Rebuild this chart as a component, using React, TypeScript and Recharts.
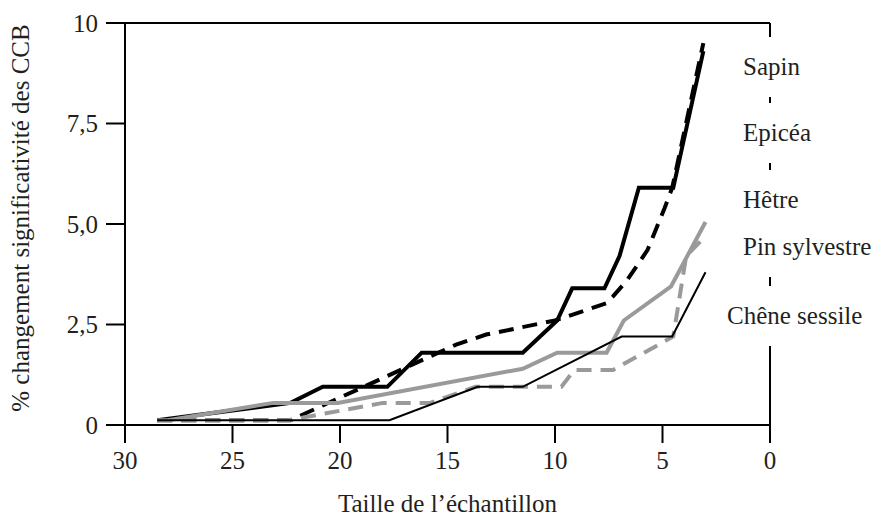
import { LineChart, Line, XAxis, YAxis, ReferenceLine } from 'recharts'

const X_TICKS = [0, 5, 10, 15, 20, 25, 30]
const Y_TICKS = [0, 2.5, 5, 7.5, 10]

// [taille de l'échantillon, % changement]
const SAPIN = [
  [28.5, 0.12], [22.3, 0.55], [20.8, 0.95], [17.8, 0.95], [16.2, 1.8], [11.5, 1.8],
  [9.9, 2.6], [9.2, 3.4], [7.7, 3.4], [7.0, 4.2], [6.1, 5.9], [4.5, 5.9], [3.1, 9.3],
]
const EPICEA = [
  [28.5, 0.12], [22.3, 0.12], [14.6, 2.0], [13.2, 2.25], [10.0, 2.6], [7.6, 3.03],
  [7.3, 3.2], [6.65, 3.6], [5.7, 4.35], [4.9, 5.4], [4.55, 5.9], [3.1, 9.5],
]
const HETRE = [
  [28.0, 0.12], [23.1, 0.55], [20.1, 0.55], [11.5, 1.4], [9.9, 1.8], [7.6, 1.8],
  [6.8, 2.6], [4.6, 3.45], [3.0, 5.05],
]
const PIN = [
  [28.5, 0.12], [22.4, 0.12], [18.0, 0.55], [15.8, 0.55], [13.7, 0.95], [9.7, 0.95],
  [9.1, 1.37], [7.3, 1.37], [4.5, 2.2], [3.9, 4.2], [3.0, 4.7],
]
const CHENE = [
  [28.5, 0.12], [17.7, 0.12], [13.6, 0.95], [11.5, 0.95], [6.9, 2.2], [4.55, 2.2], [3.0, 3.8],
]

const GREY = '#9a9a9a'
const TEXT = '#231f20'
const FONT = "'Liberation Serif', 'DejaVu Serif', 'Times New Roman', Times, serif"

const toPoints = (pairs: number[][]) => pairs.map(([x, y]) => ({ x, y }))

const series = [
  { name: 'Sapin', data: SAPIN, stroke: '#000', width: 4, dash: undefined, top: 67, left: 743 },
  { name: 'Epicéa', data: EPICEA, stroke: '#000', width: 4, dash: '15 9', top: 133, left: 743 },
  { name: 'Hêtre', data: HETRE, stroke: GREY, width: 4, dash: undefined, top: 200, left: 743 },
  { name: 'Pin sylvestre', data: PIN, stroke: GREY, width: 4, dash: '15 9', top: 247, left: 743 },
  { name: 'Chêne sessile', data: CHENE, stroke: '#000', width: 2, dash: undefined, top: 316, left: 727 },
]

const fmtY = (v: number) => (v === 0 || v === 10 ? String(v) : v.toFixed(1).replace('.', ','))

function YTitle({ viewBox }: any) {
  const cx = 20
  const cy = viewBox.y + viewBox.height / 2 - 6
  return (
    <text
      x={cx}
      y={cy}
      transform={`rotate(-90 ${cx} ${cy})`}
      textAnchor="middle"
      dominantBaseline="central"
      fill={TEXT}
      fontFamily={FONT}
      fontSize={25}
    >
      % changement significativité des CCB
    </text>
  )
}

export default function App() {
  const tick = { fill: TEXT, fontSize: 25, fontFamily: FONT }
  return (
    <div
      style={{ position: 'absolute', left: 0, top: 0, width: 895, height: 528, background: '#fff', fontFamily: FONT }}
    >
      <LineChart width={895} height={528} margin={{ top: 23, right: 125, bottom: 0, left: 0 }} style={{ fontFamily: FONT }}>
        <XAxis
          type="number"
          dataKey="x"
          domain={[0, 30]}
          ticks={X_TICKS}
          reversed
          height={103}
          tick={tick}
          tickSize={18}
          tickMargin={8}
          stroke="#000"
          strokeWidth={2}
          label={{
            value: 'Taille de l’échantillon',
            position: 'insideBottom',
            offset: 16,
            fontFamily: FONT,
            fontSize: 25,
            fill: TEXT,
          }}
        />
        <YAxis
          type="number"
          domain={[0, 10]}
          ticks={Y_TICKS}
          width={125}
          tick={tick}
          tickSize={19}
          tickMargin={8}
          tickFormatter={fmtY}
          stroke="#000"
          strokeWidth={2}
          label={{ content: (p: any) => <YTitle {...p} /> }}
        />
        <ReferenceLine y={10} stroke="#000" strokeWidth={2} />
        <ReferenceLine x={0} stroke="#000" strokeWidth={2} />
        {series.map((s) => (
          <Line
            key={s.name}
            data={toPoints(s.data)}
            dataKey="y"
            type="linear"
            stroke={s.stroke}
            strokeWidth={s.width}
            strokeDasharray={s.dash}
            dot={false}
            activeDot={false}
            isAnimationActive={false}
          />
        ))}
      </LineChart>
      {series.map((s) => (
        <div
          key={s.name}
          style={{
            position: 'absolute',
            left: s.left,
            top: s.top - 30,
            height: 60,
            lineHeight: '60px',
            background: '#fff',
            color: TEXT,
            fontFamily: FONT,
            fontSize: 25,
            whiteSpace: 'nowrap',
          }}
        >
          {s.name}
        </div>
      ))}
    </div>
  )
}
